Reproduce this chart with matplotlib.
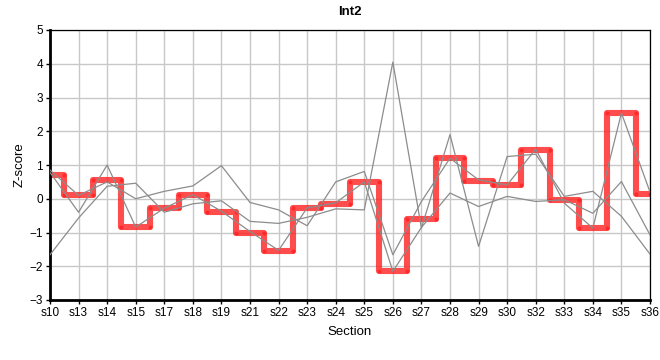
import numpy as np
import matplotlib
matplotlib.use("Agg")
from matplotlib import pyplot as plt

plt.rcParams['font.family'] = ['Liberation Sans', 'DejaVu Sans']

# sections on the x axis
sections = ["s10", "s13", "s14", "s15", "s17", "s18", "s19", "s21", "s22", "s23", "s24",
            "s25", "s26", "s27", "s28", "s29", "s30", "s32", "s33", "s34", "s35", "s36"]

# Int2 z-scores (red step line)
int2 = [0.70, 0.10, 0.55, -0.83, -0.28, 0.12, -0.38, -1.02, -1.55, -0.28, -0.15,
        0.50, -2.13, -0.60, 1.20, 0.52, 0.42, 1.45, -0.05, -0.88, 2.55, 0.15]

# the other profiles (grey)
other_a = [-1.66, -0.57, 0.37, 0.46, -0.40, -0.15, -0.06, -0.67, -0.73, -0.55, -0.30,
           -0.33, 4.05, -0.87, 1.90, -1.41, 1.25, 1.32, 0.07, 0.22, -0.52, -1.64]
other_b = [0.85, 0.10, 0.50, 0.00, 0.22, 0.38, 0.98, -0.11, -0.33, -0.80, 0.50,
           0.81, -1.66, -0.08, 1.20, 0.56, 0.41, 1.47, -0.13, -0.87, 2.54, 0.20]
other_c = [0.78, -0.40, 1.00, -0.84, -0.28, 0.12, -0.37, -0.97, -1.53, -0.27, -0.12,
           0.50, -2.15, -0.85, 0.17, -0.23, 0.07, -0.08, -0.03, -0.43, 0.51, -1.07]

x = np.arange(len(sections))

fig = plt.figure(figsize=(6.6, 3.6), dpi=100)
ax = fig.add_axes([50/660, 1 - 300/360, 600/660, 270/360])

# step path with corners halfway between sections
edges = np.concatenate([[x[0]], (x[:-1] + x[1:]) / 2, [x[-1]]])
sx = np.repeat(edges, 2)[1:-1]
sy = np.repeat(int2, 2)
ax.plot(sx, sy, color='#ff2020', alpha=0.8, lw=4.4, solid_joinstyle='round',
        solid_capstyle='round', marker='o', ms=3, mec='none', mfc='#ff2020', zorder=2)

for series in [other_a, other_b, other_c]:
    ax.plot(x, series, color='#8c8c8c', lw=0.9, zorder=3)

ax.set_xlim(x[0], x[-1])
ax.set_ylim(-3, 5)
ax.set_xticks(x)
ax.set_xticklabels(sections)
ax.set_yticks(range(-3, 6))
ax.grid(True, color='#c8c8c8', lw=1)
ax.set_axisbelow(True)
for side in ['top', 'right']:
    ax.spines[side].set_linewidth(0.9)
for side in ['left', 'bottom']:
    ax.spines[side].set_linewidth(2)
ax.tick_params(labelsize=8.5, length=3, width=1, pad=2)

ax.set_title("Int2", fontsize=9.5, fontweight='bold', pad=11)
ax.set_xlabel("Section", fontsize=9.5, labelpad=5)
ax.set_ylabel("Z-score", fontsize=9.5, labelpad=3)

fig.savefig("out.png", dpi=100)
